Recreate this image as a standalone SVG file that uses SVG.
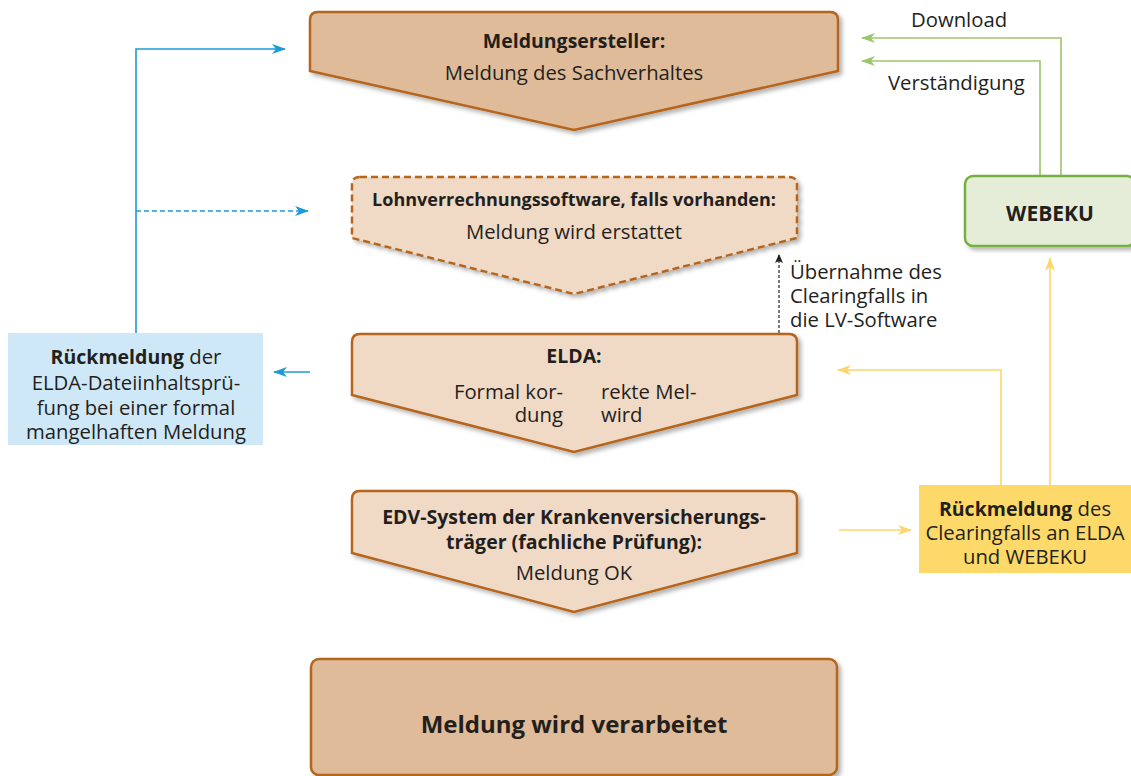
<svg xmlns="http://www.w3.org/2000/svg" width="1131" height="776" viewBox="0 0 1131 776">
<style>
text{font-family:"Open Sans","Liberation Sans",sans-serif;fill:#231f1c;font-size:20.3px}
.b{font-weight:bold;font-size:19.5px}
.c{text-anchor:middle}
.dark{fill:#dfbb9a;stroke:#b5651d;stroke-width:2.5}
.light{fill:#f0dac6;stroke:#b5651d;stroke-width:2.5}
.blue{stroke:#1c9ad6;stroke-width:1.6;fill:none}
.green{stroke:#9cc66c;stroke-width:1.6;fill:none}
.yel{stroke:#fcd66d;stroke-width:1.6;fill:none}
</style>
<defs>
<filter id="sh" x="-5%" y="-5%" width="112%" height="115%"><feDropShadow dx="3" dy="3" stdDeviation="2" flood-color="#000" flood-opacity="0.3"/></filter>
<marker id="ab" markerWidth="14" markerHeight="10" refX="13" refY="5" orient="auto" markerUnits="userSpaceOnUse"><path d="M0,0 L14,5 L0,10 L4,5 Z" fill="#1c9ad6"/></marker>
<marker id="ag" markerWidth="14" markerHeight="10" refX="13" refY="5" orient="auto" markerUnits="userSpaceOnUse"><path d="M0,0 L14,5 L0,10 L4,5 Z" fill="#9cc66c"/></marker>
<marker id="ay" markerWidth="14" markerHeight="10" refX="13" refY="5" orient="auto" markerUnits="userSpaceOnUse"><path d="M0,0 L14,5 L0,10 L4,5 Z" fill="#fcd66d"/></marker>
<marker id="ak" markerWidth="9" markerHeight="8" refX="8" refY="4" orient="auto" markerUnits="userSpaceOnUse"><path d="M0,0 L9,4 L0,8 L2,4 Z" fill="#231f1c"/></marker>
</defs>

<g id="connectors">
<polyline class="blue" points="136,333 136,49 285,49" marker-end="url(#ab)"/>
<line class="blue" x1="136" y1="211" x2="308" y2="211" stroke-dasharray="5,3" marker-end="url(#ab)"/>
<line class="blue" x1="310" y1="372" x2="274" y2="372" marker-end="url(#ab)"/>
<polyline class="green" points="1061,176 1061,38 862,38" marker-end="url(#ag)"/>
<polyline class="green" points="1040,176 1040,61 862,61" marker-end="url(#ag)"/>
<polyline class="yel" points="1001,485 1001,370 838,370" marker-end="url(#ay)"/>
<line class="yel" x1="1050" y1="485" x2="1050" y2="258" marker-end="url(#ay)"/>
<line class="yel" x1="839" y1="530" x2="911" y2="530" marker-end="url(#ay)"/>
<line x1="779" y1="333" x2="779" y2="255" stroke="#231f1c" stroke-width="1.2" stroke-dasharray="3,2" marker-end="url(#ak)"/>
<text x="911" y="27">Download</text>
<text x="888" y="90">Verständigung</text>
<text x="790" y="279">Übernahme des</text>
<text x="790" y="303">Clearingfalls in</text>
<text x="790" y="327">die LV-Software</text>
</g>

<g id="n1">
<path class="dark" filter="url(#sh)" d="M318,12 H830 Q838,12 838,20 V71 L574,130 L310,71 V20 Q310,12 318,12 Z"/>
<text class="b c" x="574" y="48">Meldungsersteller:</text>
<text class="c" x="574" y="80">Meldung des Sachverhaltes</text>
</g>

<g id="n2">
<path class="light" filter="url(#sh)" stroke-dasharray="7,4" d="M360,177 H789 Q797,177 797,185 V238 L574,294 L352,238 V185 Q352,177 360,177 Z"/>
<text class="b c" x="574" y="206" style="font-size:18px">Lohnverrechnungssoftware, falls vorhanden:</text>
<text class="c" x="574" y="239">Meldung wird erstattet</text>
</g>

<g id="n3">
<path class="light" filter="url(#sh)" d="M360,334 H789 Q797,334 797,342 V395 L574,452 L352,395 V342 Q352,334 360,334 Z"/>
<text class="b c" x="574" y="363">ELDA:</text>
<text x="563" y="399" text-anchor="end">Formal kor-</text>
<text x="601" y="399">rekte Mel-</text>
<text x="563" y="422" text-anchor="end">dung</text>
<text x="601" y="422">wird</text>
</g>

<g id="n4">
<path class="light" filter="url(#sh)" d="M360,491 H789 Q797,491 797,499 V553 L574,612 L352,553 V499 Q352,491 360,491 Z"/>
<text class="b c" x="574" y="524">EDV-System der Krankenversicherungs-</text>
<text class="b c" x="574" y="549">träger (fachliche Prüfung):</text>
<text class="c" x="574" y="580">Meldung OK</text>
</g>

<g id="n5">
<rect class="dark" filter="url(#sh)" x="311" y="659" width="526" height="116" rx="8"/>
<text class="b c" x="574" y="733" style="font-size:24px">Meldung wird verarbeitet</text>
</g>

<g id="webeku">
<rect filter="url(#sh)" x="965" y="176" width="170" height="70" rx="8" fill="#e5edd8" stroke="#77b043" stroke-width="2.5"/>
<text class="b c" x="1050" y="221" style="font-size:21px">WEBEKU</text>
</g>

<g id="rueck-elda">
<rect x="8" y="333" width="255" height="112" fill="#cfe8f8"/>
<text class="c" x="136" y="364"><tspan class="b">Rückmeldung</tspan> der</text>
<text class="c" x="136" y="390">ELDA-Dateiinhaltsprü-</text>
<text class="c" x="136" y="415">fung bei einer formal</text>
<text class="c" x="136" y="439">mangelhaften Meldung</text>
</g>

<g id="rueck-clearing">
<rect x="919" y="485" width="212" height="88" fill="#fdd96a"/>
<text class="c" x="1025" y="516"><tspan class="b">Rückmeldung</tspan> des</text>
<text class="c" x="1025" y="540">Clearingfalls an ELDA</text>
<text class="c" x="1025" y="564">und WEBEKU</text>
</g>
</svg>
